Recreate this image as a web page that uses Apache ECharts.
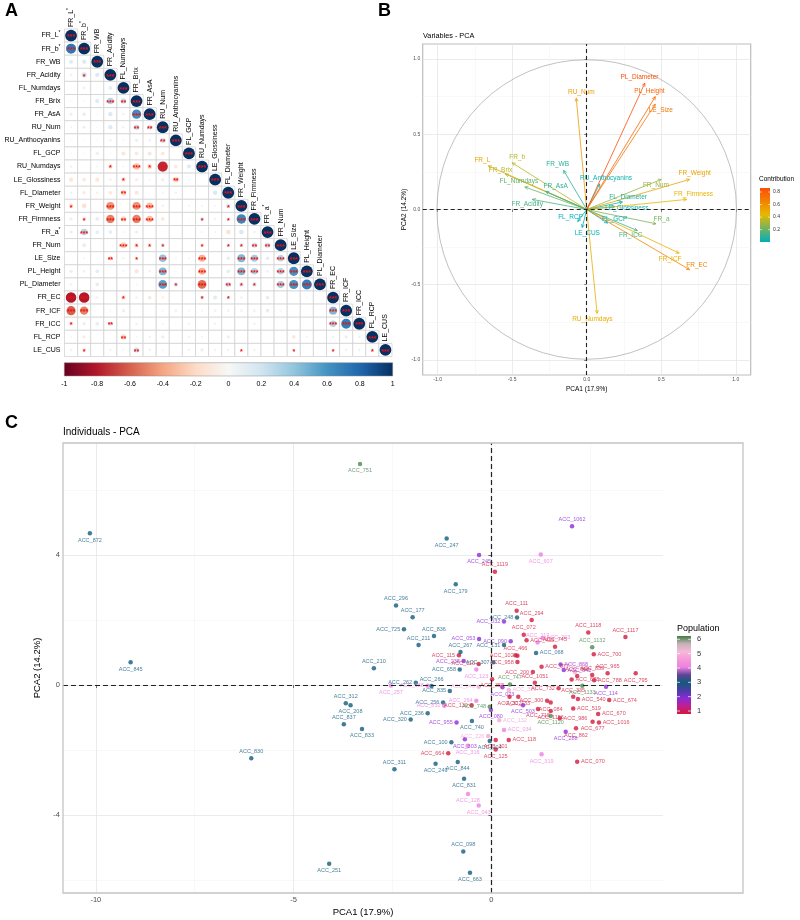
<!DOCTYPE html>
<html>
<head>
<meta charset="utf-8">
<title>PCA figure</title>
<script src="https://cdn.jsdelivr.net/npm/echarts@6/dist/echarts.min.js"></script>
<style>
  html, body { margin: 0; padding: 0; background: #fff; }
  #main { width: 800px; height: 920px; }
</style>
</head>
<body>
<div id="main"></div>
<script>
// ---------- panel A : trait correlation matrix (lower triangle) ----------
const traitNames = ['FR_L*', 'FR_b*', 'FR_WB', 'FR_Acidity', 'FL_Numdays', 'FR_Brix', 'FR_AsA',
  'RU_Num', 'RU_Anthocyanins', 'FL_GCP', 'RU_Numdays', 'LE_Glossiness', 'FL_Diameter',
  'FR_Weight', 'FR_Firmness', 'FR_a*', 'FR_Num', 'LE_Size', 'PL_Height', 'PL_Diameter',
  'FR_EC', 'FR_ICF', 'FR_ICC', 'FL_RCP', 'LE_CUS'];

const corrRows = [
  [1],
  [0.72, 1],
  [0.12, 0.13, 1],
  [0.06, 0.2, 0.14, 1],
  [0.01, 0.06, 0.01, 0.1, 1],
  [0.02, 0.02, 0.13, 0.3, 0.22, 1],
  [0.07, 0.09, 0.02, 0.14, 0.04, 0.62, 1],
  [0.03, 0.07, 0.02, 0.13, 0.04, 0.22, 0.18, 1],
  [0.02, 0.02, 0.02, 0.05, 0.03, 0.08, 0.06, 0.2, 1],
  [0.02, 0.02, -0.08, 0.02, -0.12, -0.1, -0.12, -0.1, 0.0, 1],
  [0.04, 0.0, -0.03, -0.15, -0.03, -0.3, -0.18, -0.75, -0.1, 0.12, 1],
  [-0.12, -0.1, -0.12, -0.05, -0.15, -0.08, -0.03, -0.08, -0.22, 0.03, 0.0, 1],
  [-0.05, -0.08, -0.05, -0.1, -0.2, -0.12, 0.0, -0.03, -0.05, 0.0, 0.0, 0.15, 1],
  [-0.15, -0.15, 0.0, -0.45, 0.0, -0.45, -0.3, -0.05, 0.0, 0.03, 0.03, 0.03, 0.15, 1],
  [-0.08, -0.12, 0.1, -0.5, -0.2, -0.5, -0.3, -0.1, 0.0, 0.02, 0.12, 0.05, 0.1, 0.65, 1],
  [-0.08, 0.3, 0.1, 0.1, -0.03, -0.08, 0.0, -0.02, 0.0, 0.0, 0.03, -0.03, -0.15, 0.15, 0.05, 1],
  [0.0, 0.1, 0.0, 0.0, -0.25, -0.15, -0.12, 0.12, 0.0, 0.0, -0.1, 0.0, 0.1, 0.12, 0.2, 0.2, 1],
  [0.0, 0.03, 0.02, -0.15, -0.05, -0.1, 0.0, 0.4, 0.03, 0.03, -0.35, 0.0, 0.1, 0.45, 0.35, 0.1, 0.3, 1],
  [-0.08, -0.05, 0.1, 0.0, 0.03, -0.12, -0.05, 0.45, 0.02, 0.02, -0.35, 0.0, 0.1, 0.45, 0.3, 0.05, 0.3, 0.6, 1],
  [-0.05, 0.0, 0.1, 0.0, 0.0, 0.03, 0.0, 0.55, 0.15, 0.0, -0.55, 0.0, 0.2, 0.15, 0.15, 0.0, 0.35, 0.6, 0.7, 1],
  [-0.8, -0.8, -0.05, 0.0, -0.15, -0.05, -0.1, -0.05, 0.0, 0.0, 0.12, 0.12, 0.1, 0.05, 0.0, 0.1, 0.0, 0.0, 0.03, 0.0, 1],
  [-0.6, -0.5, 0.0, 0.03, -0.08, 0.0, 0.0, 0.03, 0.05, -0.03, 0.03, 0.05, 0.05, 0.05, 0.05, 0.1, 0.03, 0.0, 0.0, 0.0, 0.45, 1],
  [-0.12, -0.08, 0.1, 0.15, 0.0, 0.05, 0.0, 0.03, 0.02, -0.05, 0.0, 0.05, 0.0, 0.0, 0.05, 0.0, 0.0, 0.0, 0.0, 0.0, 0.3, 0.7, 1],
  [-0.02, -0.08, 0.0, 0.0, -0.2, 0.02, 0.05, 0.08, 0.0, -0.05, 0.03, 0.0, -0.08, 0.0, 0.0, 0.0, 0.0, -0.1, -0.03, 0.0, 0.05, 0.08, 0.05, 1],
  [-0.05, -0.1, 0.0, 0.05, 0.03, 0.2, 0.05, 0.03, 0.0, 0.05, 0.08, 0.05, -0.05, -0.05, 0.05, 0.0, 0.0, -0.05, 0.0, 0.0, 0.05, 0.05, 0.05, 0.1, 1]
];

// number of significance stars per cell (0..3), one digit per column
const sigRows = [
  '3', '33', '003', '0103', '00003', '000323', '0000033', '00000223', '000000023',
  '0000000003', '00010313003', '000010002003', '0000200000003', '10030330000013',
  '010323300010133', '0300000000000003', '00003111001011223', '000201030030033033',
  '0000000300300330333', '00000003103021103333', '330010000010100000003',
  '3300000000000000000033', '10020000000000000000333', '000020000000000000000003',
  '0100020000000100010010013'
];

const corrScaleColors = ['#67001F', '#B2182B', '#D6604D', '#F4A582', '#FDDBC7', '#F7F7F7',
  '#D1E5F0', '#92C5DE', '#4393C3', '#2166AC', '#053061'];

// ---------- panel B : variables on PC1 / PC2 ----------
const varNames = ['FR_L', 'FR_b', 'FR_WB', 'FR_Acidity', 'FL_Numdays', 'FR_Brix', 'FR_AsA',
  'RU_Num', 'RU_Anthocyanins', 'FL_GCP', 'RU_Numdays', 'LE_Glossiness', 'FL_Diameter',
  'FR_Weight', 'FR_Firmness', 'FR_a', 'FR_Num', 'LE_Size', 'PL_Height', 'PL_Diameter',
  'FR_EC', 'FR_ICF', 'FR_ICC', 'FL_RCP', 'LE_CUS'];
const varPC1 = [-0.66, -0.50, -0.155, -0.365, -0.415, -0.545, -0.275, -0.07, 0.087, 0.14, 0.07,
  0.19, 0.24, 0.69, 0.67, 0.465, 0.50, 0.46, 0.46, 0.39, 0.69, 0.62, 0.34, -0.06, -0.03];
const varPC2 = [0.29, 0.31, 0.26, 0.067, 0.15, 0.235, 0.12, 0.74, 0.17, -0.09, -0.69,
  0.02, 0.05, 0.20, 0.067, -0.095, 0.20, 0.70, 0.75, 0.84, -0.40, -0.29, -0.14, -0.08, -0.12];
const varContrib = [0.52, 0.35, 0.09, 0.14, 0.19, 0.35, 0.09, 0.55, 0.04, 0.03, 0.48,
  0.04, 0.06, 0.52, 0.45, 0.23, 0.29, 0.70, 0.77, 0.86, 0.64, 0.47, 0.14, 0.01, 0.02];
const varLabelX = [-0.70, -0.466, -0.195, -0.399, -0.455, -0.578, -0.208, -0.036, 0.13, 0.188, 0.038,
  0.269, 0.278, 0.724, 0.717, 0.502, 0.464, 0.497, 0.421, 0.354, 0.739, 0.56, 0.296, -0.108, 0.004];
const varLabelY = [0.33, 0.349, 0.298, 0.033, 0.187, 0.262, 0.156, 0.78, 0.209, -0.067, -0.729,
  0.011, 0.084, 0.24, 0.104, -0.067, 0.162, 0.662, 0.789, 0.88, -0.373, -0.329, -0.173, -0.049, -0.156];
const contribColors = ['#00AFBB', '#E7B800', '#FC4E07'];
const contribTicks = [0.2, 0.4, 0.6, 0.8];

// ---------- panel C : individuals ----------
const accNames = ['ACC_751', 'ACC_872', 'ACC_845', 'ACC_296', 'ACC_210', 'ACC_177', 'ACC_725',
  'ACC_211', 'ACC_262', 'ACC_257', 'ACC_188', 'ACC_312', 'ACC_208', 'ACC_837', 'ACC_833',
  'ACC_830', 'ACC_251', 'ACC_311', 'ACC_249', 'ACC_844', 'ACC_831', 'ACC_128', 'ACC_043',
  'ACC_098', 'ACC_663', 'ACC_1062', 'ACC_247', 'ACC_245', 'ACC_607', 'ACC_1119', 'ACC_179',
  'ACC_111', 'ACC_248', 'ACC_294', 'ACC_836', 'ACC_131', 'ACC_032', 'ACC_072', 'ACC_433',
  'ACC_117', 'ACC_203', 'ACC_745', 'ACC_1118', 'ACC_1117', 'ACC_1132', 'ACC_068', 'ACC_700',
  'ACC_053', 'ACC_090', 'ACC_115', 'ACC_267', 'ACC_102', 'ACC_466', 'ACC_238', 'ACC_307',
  'ACC_958', 'ACC_077', 'ACC_868', 'ACC_110', 'ACC_658', 'ACC_123', 'ACC_747', 'ACC_200',
  'ACC_842', 'ACC_358', 'ACC_1051', 'ACC_266', 'ACC_046', 'ACC_073', 'ACC_326', 'ACC_732',
  'ACC_835', 'ACC_264', 'ACC_733', 'ACC_300', 'ACC_256', 'ACC_832', 'ACC_130', 'ACC_236',
  'ACC_320', 'ACC_302', 'ACC_080', 'ACC_715', 'ACC_084', 'ACC_955', 'ACC_740', 'ACC_503',
  'ACC_132', 'ACC_1156', 'ACC_1120', 'ACC_034', 'ACC_100', 'ACC_303', 'ACC_226', 'ACC_204',
  'ACC_118', 'ACC_301', 'ACC_316', 'ACC_664', 'ACC_125', 'ACC_288', 'ACC_319', 'ACC_998',
  'ACC_839', 'ACC_965', 'ACC_795', 'ACC_678', 'ACC_788', 'ACC_044', 'ACC_1133', 'ACC_114',
  'ACC_335', 'ACC_540', 'ACC_674', 'ACC_519', 'ACC_670', 'ACC_1016', 'ACC_677', 'ACC_986',
  'ACC_862', 'ACC_070', 'ACC_748'];
const accPC1 = [-3.32, -10.15, -9.12, -2.41, -2.97, -1.99, -2.21,
  -1.84, -1.91, -2.54, -1.61, -3.68, -3.56, -3.73, -3.27,
  -6.07, -4.10, -2.45, -1.41, -0.85, -0.69, -0.59, -0.32,
  -0.71, -0.54, 2.04, -1.13, -0.31, 1.25, 0.09, -0.90,
  0.64, 0.65, 1.02, -1.45, 0.32, 0.32, 0.82, 0.89,
  1.17, 1.30, 1.61, 2.45, 3.39, 2.55, 1.13, 2.59,
  -0.31, 0.49, -0.82, -0.78, 0.66, 0.61, -0.70, 0.05,
  0.66, 1.27, 1.75, -0.32, -0.80, -0.38, 0.47, 1.05,
  1.83, 0.02, 1.10, -1.51, -0.32, 0.28, 0.44, 1.70,
  -1.05, -0.38, 0.68, 1.41, -1.22, -1.19, -0.50, -1.61,
  -2.04, 0.46, -0.01, 1.18, 1.50, -0.88, -0.49, 0.80,
  0.20, 1.50, 1.50, 0.32, -1.01, -0.67, -0.08, -0.04,
  0.44, 0.11, -0.60, -1.09, 0.11, 1.88, 1.27, 2.17,
  2.55, 2.94, 3.65, 2.03, 2.60, 2.11, 2.30, 2.90,
  2.07, 2.19, 2.98, 2.07, 2.70, 2.72, 2.56, 1.73,
  2.14, 2.17, -0.04];
const accPC2 = [6.80, 4.67, 0.70, 2.45, 0.52, 2.09, 1.72,
  1.23, 0.07, -0.01, -0.02, -0.56, -0.62, -1.21, -1.35,
  -2.25, -5.50, -2.59, -2.42, -2.37, -2.88, -3.35, -3.71,
  -5.12, -5.78, 4.89, 4.51, 4.00, 4.02, 3.49, 3.10,
  2.29, 2.08, 2.00, 1.51, 1.23, 1.96, 1.55, 1.38,
  1.31, 1.45, 1.18, 1.62, 1.48, 1.16, 0.99, 0.95,
  1.42, 1.35, 0.92, 1.02, 0.90, 0.92, 0.74, 0.70,
  0.71, 0.56, 0.63, 0.65, 0.48, 0.48, 0.02, 0.40,
  0.46, 0.18, 0.07, -0.03, -0.05, -0.07, -0.15, -0.10,
  -0.18, -0.48, -0.36, -0.48, -0.54, -0.64, -0.62, -0.87,
  -1.06, -0.36, -0.77, -0.74, -0.54, -1.15, -1.11, -0.62,
  -1.08, -0.80, -0.95, -1.38, -1.76, -1.67, -1.57, -1.72,
  -1.69, -1.69, -1.87, -2.10, -1.98, -1.44, -2.13, 0.28,
  0.31, 0.36, 0.36, 0.17, 0.15, 0.40, -0.02, -0.05,
  -0.36, -0.43, -0.46, -0.72, -0.89, -1.15, -1.13, -1.02,
  -1.33, -2.36, -0.67];
const accPop = [6, 3, 3, 3, 3, 3, 3,
  3, 3, 4, 4, 3, 3, 3, 3,
  3, 3, 3, 3, 3, 3, 4, 4,
  3, 3, 2, 3, 2, 4, 1, 3,
  1, 3, 1, 3, 3, 2, 1, 1,
  4, 4, 1, 1, 1, 6, 3, 1,
  2, 2, 1, 3, 1, 1, 2, 3,
  1, 1, 2, 1, 3, 4, 6, 1,
  2, 1, 1, 3, 5, 2, 5, 1,
  3, 4, 1, 1, 3, 4, 1, 3,
  3, 1, 2, 1, 1, 2, 3, 2,
  5, 1, 6, 4, 3, 2, 5, 3,
  1, 1, 4, 1, 1, 2, 4, 1,
  1, 1, 1, 1, 1, 5, 6, 2,
  1, 1, 1, 1, 1, 1, 1, 1,
  1, 1, 6];
const accLabelPos = ['bottom', 'bottom', 'bottom', 'top', 'top', 'top', 'left',
  'top', 'left', 'bottom', 'left', 'top', 'bottom', 'top', 'bottom',
  'top', 'bottom', 'top', 'bottom', 'bottom', 'bottom', 'bottom', 'bottom',
  'top', 'bottom', 'top', 'bottom', 'bottom', 'bottom', 'top', 'bottom',
  'top', 'left', 'top', 'top', 'left', 'left', 'top', 'right',
  'top', 'right', 'top', 'top', 'top', 'top', 'right', 'right',
  'left', 'left', 'left', 'top', 'left', 'top', 'left', 'left',
  'left', 'right', 'right', 'left', 'left', 'bottom', 'top', 'left',
  'right', 'bottom', 'top', 'top', 'left', 'bottom', 'right', 'left',
  'left', 'left', 'bottom', 'left', 'left', 'left', 'left', 'left',
  'left', 'bottom', 'bottom', 'bottom', 'bottom', 'left', 'bottom', 'bottom',
  'right', 'bottom', 'bottom', 'right', 'left', 'bottom', 'left', 'bottom',
  'right', 'bottom', 'bottom', 'left', 'bottom', 'bottom', 'bottom', 'top',
  'top', 'top', 'bottom', 'right', 'right', 'top', 'bottom', 'bottom',
  'top', 'right', 'right', 'right', 'right', 'right', 'bottom', 'right',
  'bottom', 'right', 'left'];
const popColors = { 1: '#d21a3c', 2: '#8e2bd9', 3: '#135d7e', 4: '#ec7fe2', 5: '#f2a9d6', 6: '#4b8a4f' };
const popTicks = [1, 2, 3, 4, 5, 6];
// colour bar of the population legend, from 6 (top) down to 1
const popBarColors = ['#3f7f44', '#c9b0b9', '#f5b8d8', '#f59ad8', '#ee80e2', '#5c4596',
  '#135a7a', '#4d3ca6', '#8a2ad6', '#c0208e', '#d4183a'];

const FONT = '"Liberation Sans", Arial, sans-serif';

// ---------- helpers ----------
function hexToRgb(h) {
  const n = parseInt(h.slice(1), 16);
  return [(n >> 16) & 255, (n >> 8) & 255, n & 255];
}
function lerpColor(stops, t) {
  t = Math.max(0, Math.min(1, t));
  const n = stops.length - 1;
  const i = Math.min(Math.floor(t * n), n - 1);
  const f = t * n - i;
  const a = hexToRgb(stops[i]), b = hexToRgb(stops[i + 1]);
  const c = a.map((v, k) => Math.round(v + (b[k] - v) * f));
  return 'rgb(' + c.join(',') + ')';
}
function corrColor(r) { return lerpColor(corrScaleColors, (r + 1) / 2); }
const contribMin = 0.01, contribMax = 0.86;
function contribColor(v) { return lerpColor(contribColors, (v - contribMin) / (contribMax - contribMin)); }
function gradientStops(colors) {
  return colors.map((c, i) => ({ offset: i / (colors.length - 1), color: c }));
}
// label with superscript asterisk (FR_L*, FR_b*, FR_a*)
function starLabel(name) {
  return name.endsWith('*') ? '{t|' + name.slice(0, -1) + '}{s|*}' : '{t|' + name + '}';
}
const starRich = {
  t: { fontSize: 7, color: '#000', fontFamily: FONT },
  s: { fontSize: 5, color: '#000', fontFamily: FONT, padding: [0, 0, 5, 0] }
};

// ---------- series data ----------
const corrData = [];
corrRows.forEach((row, i) => {
  row.forEach((r, j) => {
    corrData.push([j, i, r, parseInt(sigRows[i].charAt(j) || '0', 10)]);
  });
});

const varData = varNames.map((n, i) => [varPC1[i], varPC2[i], varContrib[i]]);
const varLabelData = varNames.map((n, i) => [varLabelX[i], varLabelY[i], varContrib[i]]);

const accData = accNames.map((n, i) => ({
  name: n,
  value: [accPC1[i], accPC2[i]],
  itemStyle: { color: popColors[accPop[i]] },
  label: { position: accLabelPos[i], color: popColors[accPop[i]] }
}));

// ---------- render functions ----------
function renderCorrCell(params, api) {
  const col = api.value(0), row = api.value(1), r = api.value(2), sig = api.value(3);
  const c = api.coord([col, row]);
  const s = api.size([1, 1]);
  const w = s[0], h = s[1];
  const children = [{
    type: 'rect',
    shape: { x: c[0] - w / 2, y: c[1] - h / 2, width: w, height: h },
    style: { fill: '#fff', stroke: '#cfcfcf', lineWidth: 0.7 }
  }, {
    type: 'circle',
    shape: { cx: c[0], cy: c[1], r: 0.45 * w * Math.sqrt(Math.abs(r)) },
    style: { fill: corrColor(r) }
  }];
  if (sig > 0) {
    children.push({
      type: 'text', x: c[0], y: c[1] + 1.8,
      style: { text: '***'.slice(0, sig), fill: '#ee1111', fontSize: 7, fontWeight: 'bold',
        fontFamily: FONT, align: 'center', verticalAlign: 'middle' }
    });
  }
  if (col === row) {
    // column label written upwards above the diagonal cell
    children.push({
      type: 'text', x: c[0], y: c[1] - h / 2 - 2, rotation: Math.PI / 2,
      style: { text: starLabel(traitNames[col]), rich: starRich, align: 'left', verticalAlign: 'middle' }
    });
  }
  return { type: 'group', children: children };
}

function renderCorrBar(params, api) {
  const p0 = api.coord([api.value(0), 0]);
  const p1 = api.coord([api.value(1), 1]);
  return {
    type: 'rect',
    shape: { x: p0[0], y: p1[1], width: p1[0] - p0[0], height: p0[1] - p1[1] },
    style: {
      fill: new echarts.graphic.LinearGradient(0, 0, 1, 0, gradientStops(corrScaleColors)),
      stroke: '#8c8c8c', lineWidth: 0.5
    }
  };
}

function renderUnitCircle(params, api) {
  const c = api.coord([0, 0]);
  const s = api.size([1, 1]);
  return {
    type: 'circle',
    shape: { cx: c[0], cy: c[1], r: (s[0] + s[1]) / 2 },
    style: { fill: 'none', stroke: '#a6a6a6', lineWidth: 0.7 }
  };
}

function renderArrow(params, api) {
  const p0 = api.coord([0, 0]);
  const p1 = api.coord([api.value(0), api.value(1)]);
  const col = contribColor(api.value(2));
  const ang = Math.atan2(p1[1] - p0[1], p1[0] - p0[0]);
  const L = 3.6, a = Math.PI / 7;
  return {
    type: 'group',
    children: [{
      type: 'line',
      shape: { x1: p0[0], y1: p0[1], x2: p1[0], y2: p1[1] },
      style: { stroke: col, lineWidth: 0.8 }
    }, {
      type: 'polyline',
      shape: { points: [
        [p1[0] - L * Math.cos(ang - a), p1[1] - L * Math.sin(ang - a)],
        [p1[0], p1[1]],
        [p1[0] - L * Math.cos(ang + a), p1[1] - L * Math.sin(ang + a)]
      ] },
      style: { stroke: col, lineWidth: 0.8, fill: 'none' }
    }]
  };
}

function renderVarLabel(params, api) {
  const p = api.coord([api.value(0), api.value(1)]);
  return {
    type: 'text', x: p[0], y: p[1],
    style: { text: varNames[params.dataIndex], fill: contribColor(api.value(2)), fontSize: 6.5,
      fontFamily: FONT, align: 'center', verticalAlign: 'middle' }
  };
}

// ---------- axes ----------
const gridLine = { show: true, lineStyle: { color: '#e3e3e3', width: 0.7 } };
const minorLine = { show: true, lineStyle: { color: '#f1f1f1', width: 0.5 } };
function majorAxis(grid, min, max, ticks, fmt, extra) {
  return Object.assign({
    gridIndex: grid, type: 'value', min: min, max: max,
    axisLine: { show: false },
    axisTick: { show: true, customValues: ticks, length: 2.5, lineStyle: { color: '#333', width: 0.6 } },
    axisLabel: { customValues: ticks, formatter: fmt, color: '#4d4d4d', fontFamily: FONT, fontSize: 5, margin: 2.5 },
    splitLine: gridLine
  }, extra || {});
}
function minorAxis(grid, min, max, ticks) {
  return {
    gridIndex: grid, type: 'value', min: min, max: max,
    axisLine: { show: false },
    axisTick: { show: false, customValues: ticks },
    axisLabel: { show: false, customValues: ticks },
    splitLine: minorLine
  };
}
const fmt1 = v => v.toFixed(1);
const fmt0 = v => String(Math.round(v));

const chart = echarts.init(document.getElementById('main'), null, { width: 800, height: 920 });

const option = {
  backgroundColor: '#fff',
  animation: false,
  textStyle: { fontFamily: FONT },
  grid: [
    { left: 64.5, top: 29, width: 327.5, height: 327.5, outerBoundsMode: 'none' },
    { left: 64.3, top: 362.7, width: 328.4, height: 13.3, outerBoundsMode: 'none' },
    { left: 422.7, top: 44, width: 328, height: 331, show: true, borderColor: '#bdbdbd', borderWidth: 1.2, outerBoundsMode: 'none' },
    { left: 63, top: 443, width: 600, height: 450, outerBoundsMode: 'none' }
  ],
  xAxis: [
    { gridIndex: 0, type: 'category', data: traitNames, show: false },
    { gridIndex: 1, type: 'value', min: -1, max: 1, interval: 0.2,
      axisLine: { show: false }, axisTick: { show: false }, splitLine: { show: false },
      axisLabel: { color: '#000', fontSize: 7, fontFamily: FONT, margin: 5,
        formatter: v => String(Math.round(v * 10) / 10) } },
    majorAxis(2, -1.1, 1.1, [-1, -0.5, 0, 0.5, 1], fmt1,
      { name: 'PCA1 (17.9%)', nameLocation: 'middle', nameGap: 11,
        nameTextStyle: { fontSize: 6.5, color: '#000', fontFamily: FONT } }),
    minorAxis(2, -1.1, 1.1, [-0.75, -0.25, 0.25, 0.75]),
    majorAxis(3, -10.83, 4.34, [-10, -5, 0], fmt0,
      { name: 'PCA1 (17.9%)', nameLocation: 'middle', nameGap: 14,
        nameTextStyle: { fontSize: 9.5, color: '#000', fontFamily: FONT },
        axisLabel: { customValues: [-10, -5, 0], formatter: fmt0, color: '#4d4d4d', fontFamily: FONT, fontSize: 7.5, margin: 3 },
        axisTick: { show: true, customValues: [-10, -5, 0], length: 3, lineStyle: { color: '#333', width: 0.7 } } }),
    minorAxis(3, -10.83, 4.34, [-7.5, -2.5, 2.5])
  ],
  yAxis: [
    { gridIndex: 0, type: 'category', data: traitNames, inverse: true,
      axisLine: { show: false }, axisTick: { show: false }, splitLine: { show: false },
      axisLabel: { interval: 0, margin: 4, formatter: starLabel, rich: starRich } },
    { gridIndex: 1, type: 'value', min: 0, max: 1, show: false },
    majorAxis(2, -1.1, 1.1, [-1, -0.5, 0, 0.5, 1], fmt1,
      { name: 'PCA2 (14.2%)', nameLocation: 'middle', nameGap: 11,
        nameTextStyle: { fontSize: 6.5, color: '#000', fontFamily: FONT } }),
    minorAxis(2, -1.1, 1.1, [-0.75, -0.25, 0.25, 0.75]),
    majorAxis(3, -6.4, 7.45, [-4, 0, 4], fmt0,
      { name: 'PCA2 (14.2%)', nameLocation: 'middle', nameGap: 14,
        nameTextStyle: { fontSize: 9.5, color: '#000', fontFamily: FONT },
        axisLabel: { customValues: [-4, 0, 4], formatter: fmt0, color: '#4d4d4d', fontFamily: FONT, fontSize: 7.5, margin: 3 },
        axisTick: { show: true, customValues: [-4, 0, 4], length: 3, lineStyle: { color: '#333', width: 0.7 } } }),
    minorAxis(3, -6.4, 7.45, [-6, -2, 2, 6])
  ],
  series: [
    { type: 'custom', name: 'corr', xAxisIndex: 0, yAxisIndex: 0, renderItem: renderCorrCell,
      data: corrData, clip: false, silent: true },
    { type: 'custom', name: 'corrbar', xAxisIndex: 1, yAxisIndex: 1, renderItem: renderCorrBar,
      data: [[-1, 1]], silent: true },
    { type: 'custom', name: 'circle', xAxisIndex: 2, yAxisIndex: 2, renderItem: renderUnitCircle,
      data: [[0, 0]], silent: true,
      markLine: { silent: true, symbol: 'none', label: { show: false },
        lineStyle: { color: '#222', type: [4, 3], width: 1.1 },
        data: [{ xAxis: 0 }, { yAxis: 0 }] } },
    { type: 'custom', name: 'arrows', xAxisIndex: 2, yAxisIndex: 2, renderItem: renderArrow,
      data: varData, silent: true },
    { type: 'custom', name: 'varlabels', xAxisIndex: 2, yAxisIndex: 2, renderItem: renderVarLabel,
      data: varLabelData, silent: true },
    { type: 'scatter', name: 'individuals', xAxisIndex: 4, yAxisIndex: 4, symbolSize: 4.5,
      data: accData, silent: true,
      label: { show: true, formatter: '{b}', fontSize: 5.5, fontFamily: FONT, distance: 1.5 },
      markLine: { silent: true, symbol: 'none', label: { show: false },
        lineStyle: { color: '#222', type: [5, 3], width: 1.2 },
        data: [{ xAxis: 0 }, { yAxis: 0 }] } }
  ],
  graphic: []
};

// ---------- titles, panel letters, legends ----------
const g = option.graphic;
const letter = (t, x, y) => ({ type: 'text', left: x, top: y,
  style: { text: t, fontSize: 18, fontWeight: 'bold', fill: '#000', fontFamily: FONT } });
g.push(letter('A', 5, 2), letter('B', 378, 2), letter('C', 5, 414));
g.push({ type: 'text', left: 423, top: 32, style: { text: 'Variables - PCA', fontSize: 7.3, fill: '#000', fontFamily: FONT } });
g.push({ type: 'text', left: 63, top: 427, style: { text: 'Individuals - PCA', fontSize: 10, fill: '#000', fontFamily: FONT } });

// contribution colour bar (panel B)
const cbTop = 188, cbBottom = 242, cbX = 760;
const cbY = v => 192 + (0.8 - v) * 62.8;
g.push({ type: 'text', left: 759, top: 176, style: { text: 'Contribution', fontSize: 6.5, fill: '#000', fontFamily: FONT } });
g.push({ type: 'rect', shape: { x: cbX, y: cbTop, width: 10, height: cbBottom - cbTop },
  style: { fill: new echarts.graphic.LinearGradient(0, 1, 0, 0, [
    { offset: 0, color: contribColors[0] },
    { offset: 0.435 / 0.86, color: contribColors[1] },
    { offset: 1, color: contribColors[2] }]) } });
contribTicks.forEach(v => {
  g.push({ type: 'line', shape: { x1: cbX, y1: cbY(v), x2: cbX + 2, y2: cbY(v) }, style: { stroke: '#fff', lineWidth: 0.6 } });
  g.push({ type: 'line', shape: { x1: cbX + 8, y1: cbY(v), x2: cbX + 10, y2: cbY(v) }, style: { stroke: '#fff', lineWidth: 0.6 } });
  g.push({ type: 'text', x: cbX + 13, y: cbY(v), style: { text: v.toFixed(1), fontSize: 5, fill: '#333',
    fontFamily: FONT, verticalAlign: 'middle' } });
});

// population colour bar (panel C)
const pbX = 677, pbTop = 636, pbBottom = 714;
const pbY = v => 639.3 + (6 - v) * 14.34;
g.push({ type: 'text', left: 677, top: 624, style: { text: 'Population', fontSize: 9, fill: '#000', fontFamily: FONT } });
g.push({ type: 'rect', shape: { x: pbX, y: pbTop, width: 14, height: pbBottom - pbTop },
  style: { fill: new echarts.graphic.LinearGradient(0, 0, 0, 1, gradientStops(popBarColors)) } });
popTicks.forEach(v => {
  g.push({ type: 'line', shape: { x1: pbX, y1: pbY(v), x2: pbX + 3, y2: pbY(v) }, style: { stroke: '#fff', lineWidth: 0.7 } });
  g.push({ type: 'line', shape: { x1: pbX + 11, y1: pbY(v), x2: pbX + 14, y2: pbY(v) }, style: { stroke: '#fff', lineWidth: 0.7 } });
  g.push({ type: 'text', x: pbX + 20, y: pbY(v), style: { text: String(v), fontSize: 7.5, fill: '#333',
    fontFamily: FONT, verticalAlign: 'middle' } });
});

// outer frame of panel C (plot + legend)
g.push({ type: 'rect', shape: { x: 63, y: 443, width: 680, height: 450 },
  style: { fill: 'none', stroke: '#c4c4c4', lineWidth: 1.3 }, z: 100 });

chart.setOption(option);
</script>
</body>
</html>
